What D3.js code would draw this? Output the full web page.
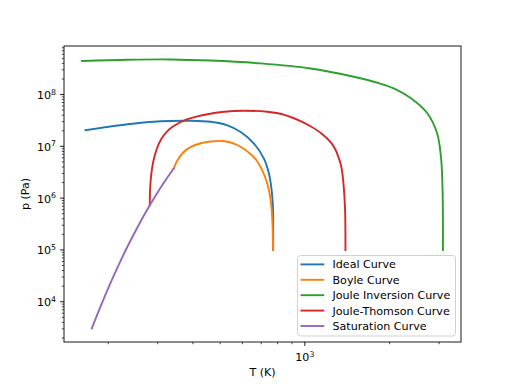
<!DOCTYPE html>
<html>
<head>
<meta charset="utf-8">
<script src="https://cdn.jsdelivr.net/npm/d3@7/dist/d3.min.js"></script>
<style>
  body { margin: 0; background: #fff; }
  text { font-family: "DejaVu Sans", sans-serif; fill: #000; }
</style>
</head>
<body>
<svg width="512" height="384"></svg>
<script>
// values (T in K, p in Pa)
var idealT = [166.0, 234.6, 307.8, 393.3, 463.1, 530.6, 591.6, 659.4, 715.5, 745.3, 762.1, 770.1, 771.5, 772.0];
var idealP = [2.05e7, 2.67e7, 3.05e7, 3.12e7, 2.98e7, 2.55e7, 1.897e7, 1.132e7, 5.81e6, 2.98e6, 1.42e6, 6.76e5, 2.62e5, 1.0e5];

var boyleT = [341.7, 352.7, 368.5, 393.3, 426.7, 463.1, 502.4, 536.3, 568.0, 601.4, 642.0, 673.0, 693.6, 710.9, 729.2, 745.3, 755.8, 762.6, 768.8, 770.8];
var boyleP = [3.73e6, 5.39e6, 7.52e6, 9.74e6, 1.147e7, 1.243e7, 1.272e7, 1.211e7, 1.098e7, 9.27e6, 7.04e6, 5.39e6, 4.13e6, 3.16e6, 2.216e6, 1.42e6, 9.11e5, 5.84e5, 2.40e5, 1.0e5];

var jiT = [161.5, 234.6, 334.0, 463.1, 696.5, 1047.6, 1492, 1855, 2097, 2370, 2716, 2948, 3046, 3086, 3096];
var jiP = [4.45e8, 4.70e8, 4.76e8, 4.53e8, 3.99e8, 3.18e8, 2.21e8, 1.63e8, 1.277e8, 8.68e7, 4.45e7, 1.83e7, 6.24e6, 1.42e6, 1.0e5];

var jtT = [281.1, 281.6, 283.2, 286.5, 291.4, 298.7, 308.6, 323.3, 343.1, 382.8, 450.8, 516.1, 607.7, 735.6, 820.0, 889.9, 965.5, 1047.6, 1137, 1233, 1285, 1322, 1344, 1360.6, 1375, 1390, 1394];
var jtP = [7.29e5, 1.30e6, 2.216e6, 3.78e6, 6.03e6, 9.40e6, 1.371e7, 1.931e7, 2.50e7, 3.34e7, 4.17e7, 4.66e7, 4.87e7, 4.66e7, 4.26e7, 3.69e7, 3.08e7, 2.44e7, 1.83e7, 1.216e7, 8.60e6, 5.81e6, 4.32e6, 2.893e6, 1.644e6, 5.84e5, 1.0e5];

var satT = [174.8, 189.7, 205.8, 230.7, 254.5, 281.1, 308.3, 341.7];
var satP = [3041, 9226, 2.6e4, 9.86e4, 2.78e5, 7.29e5, 1.644e6, 3.73e6];

var names = ["Ideal Curve", "Boyle Curve", "Joule Inversion Curve", "Joule-Thomson Curve", "Saturation Curve"];
var colors = ["#1f77b4", "#ff7f0e", "#2ca02c", "#d62728", "#9467bd"];

var series = [[idealT, idealP], [boyleT, boyleP], [jiT, jiP], [jtT, jtP], [satT, satP]].map(function(s, i) {
  return { name: names[i], color: colors[i], pts: s[0].map(function(t, j) { return [t, s[1][j]]; }) };
});

var margin = { left: 64, right: 461, top: 46, bottom: 342 };
var svg = d3.select("svg");

// log-space 5% padding like matplotlib autoscale
function padded(vals) {
  var e = d3.extent(vals).map(Math.log10);
  var m = (e[1] - e[0]) * 0.05;
  return [Math.pow(10, e[0] - m), Math.pow(10, e[1] + m)];
}
var allT = d3.merge([idealT, boyleT, jiT, jtT, satT]);
var allP = d3.merge([idealP, boyleP, jiP, jtP, satP]);

var x = d3.scaleLog().domain(padded(allT)).range([margin.left, margin.right]);
var y = d3.scaleLog().domain(padded(allP)).range([margin.bottom, margin.top]);

function logTicks(dom) {
  var major = [], minor = [];
  for (var e = Math.floor(Math.log10(dom[0])); e <= Math.ceil(Math.log10(dom[1])); e++) {
    for (var k = 1; k < 10; k++) {
      var v = k * Math.pow(10, e);
      if (v < dom[0] || v > dom[1]) continue;
      (k === 1 ? major : minor).push({ v: v, e: e });
    }
  }
  return { major: major, minor: minor };
}

var fs = 11.1;
var line = d3.line()
  .x(function(d) { return x(d[0]); })
  .y(function(d) { return y(d[1]); })
  .curve(d3.curveCatmullRom.alpha(0.5));

svg.append("defs").append("clipPath").attr("id", "clip")
  .append("rect").attr("x", margin.left).attr("y", margin.top)
  .attr("width", margin.right - margin.left).attr("height", margin.bottom - margin.top);

svg.append("g").attr("clip-path", "url(#clip)")
  .selectAll("path").data(series).enter().append("path")
  .attr("d", function(d) { return line(d.pts); })
  .attr("fill", "none")
  .attr("stroke", function(d) { return d.color; })
  .attr("stroke-width", 1.9)
  .attr("stroke-linecap", "square")
  .attr("stroke-linejoin", "round");

// x ticks
var xt = logTicks(x.domain());
var gx = svg.append("g");
gx.selectAll("line.mj").data(xt.major).enter().append("line")
  .attr("x1", function(d) { return x(d.v); }).attr("x2", function(d) { return x(d.v); })
  .attr("y1", margin.bottom).attr("y2", margin.bottom + 3.9)
  .attr("stroke", "#000").attr("stroke-width", 0.9);
gx.selectAll("line.mn").data(xt.minor).enter().append("line")
  .attr("x1", function(d) { return x(d.v); }).attr("x2", function(d) { return x(d.v); })
  .attr("y1", margin.bottom).attr("y2", margin.bottom + 2.2)
  .attr("stroke", "#000").attr("stroke-width", 0.7);
var xl = gx.selectAll("text").data(xt.major).enter().append("text")
  .attr("x", function(d) { return x(d.v); })
  .attr("y", margin.bottom + 19)
  .attr("text-anchor", "middle")
  .style("font-size", fs + "px");
xl.append("tspan").text("10");
xl.append("tspan").attr("dy", -4.5).style("font-size", "7.8px").text(function(d) { return d.e; });

// y ticks
var yt = logTicks(y.domain());
var gy = svg.append("g");
gy.selectAll("line.mj").data(yt.major).enter().append("line")
  .attr("y1", function(d) { return y(d.v); }).attr("y2", function(d) { return y(d.v); })
  .attr("x1", margin.left).attr("x2", margin.left - 3.9)
  .attr("stroke", "#000").attr("stroke-width", 0.9);
gy.selectAll("line.mn").data(yt.minor).enter().append("line")
  .attr("y1", function(d) { return y(d.v); }).attr("y2", function(d) { return y(d.v); })
  .attr("x1", margin.left).attr("x2", margin.left - 2.2)
  .attr("stroke", "#000").attr("stroke-width", 0.7);
var yl = gy.selectAll("text").data(yt.major).enter().append("text")
  .attr("x", margin.left - 8)
  .attr("y", function(d) { return y(d.v) + 4.5; })
  .attr("text-anchor", "end")
  .style("font-size", fs + "px");
yl.append("tspan").text("10");
yl.append("tspan").attr("dy", -4.5).style("font-size", "7.8px").text(function(d) { return d.e; });

// frame
svg.append("rect")
  .attr("x", margin.left).attr("y", margin.top)
  .attr("width", margin.right - margin.left).attr("height", margin.bottom - margin.top)
  .attr("fill", "none").attr("stroke", "#000").attr("stroke-width", 0.9);

// axis labels
svg.append("text").attr("x", (margin.left + margin.right) / 2).attr("y", 376)
  .attr("text-anchor", "middle").style("font-size", fs + "px").text("T (K)");
svg.append("text").attr("transform", "translate(29," + ((margin.top + margin.bottom) / 2) + ") rotate(-90)")
  .attr("text-anchor", "middle").style("font-size", fs + "px").text("p (Pa)");

// legend
var lg = svg.append("g");
lg.append("rect").attr("x", 297.5).attr("y", 255.5).attr("width", 158).attr("height", 80.5)
  .attr("rx", 3).attr("fill", "#fff").attr("fill-opacity", 0.8)
  .attr("stroke", "#cccccc").attr("stroke-width", 0.9);
var items = lg.selectAll("g.item").data(series).enter().append("g")
  .attr("transform", function(d, i) { return "translate(0," + (264.4 + i * 15.4) + ")"; });
items.append("line").attr("x1", 300.5).attr("x2", 324.3).attr("y1", 0).attr("y2", 0)
  .attr("stroke", function(d) { return d.color; }).attr("stroke-width", 1.9);
items.append("text").attr("x", 332.5).attr("y", 4)
  .style("font-size", fs + "px").text(function(d) { return d.name; });
</script>
</body>
</html>
